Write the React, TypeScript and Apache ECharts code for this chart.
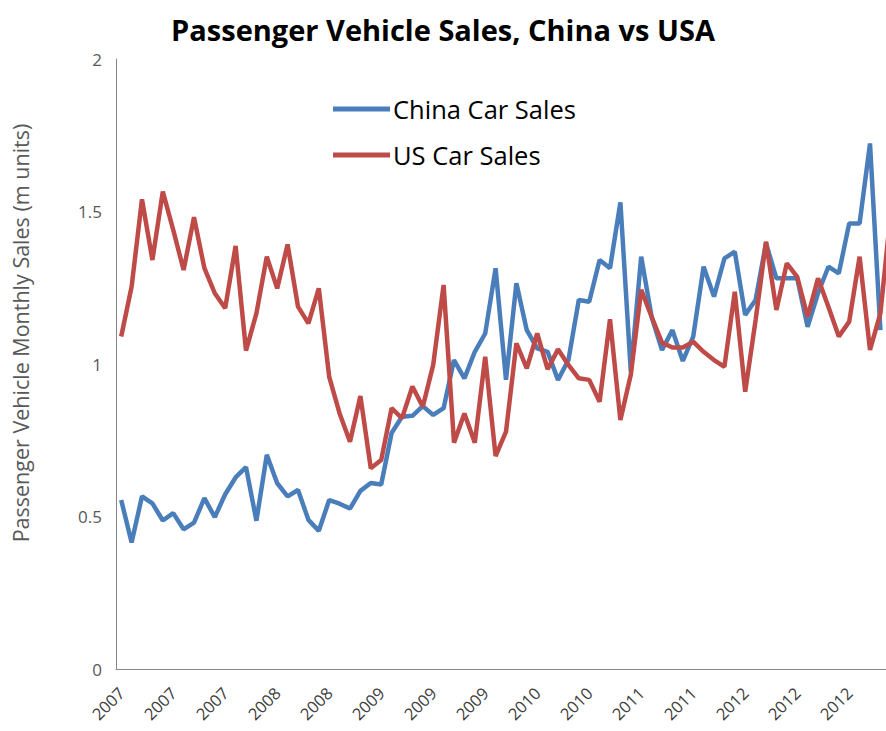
import React, { useEffect, useRef } from "react";
import * as echarts from "echarts";

// Monthly categories, Jan 2007 .. Mar 2013 (axis shows the year only)
const startYear = 2007;
const monthCount = 75;
const categories: string[] = Array.from({ length: monthCount }, (_, i) => {
  const y = startYear + Math.floor(i / 12);
  const m = (i % 12) + 1;
  return `${y}-${m < 10 ? "0" + m : m}`;
});

const yTicks = [0, 0.5, 1, 1.5, 2];

// China passenger car sales (million units per month)
const chinaSales: (number | null)[] = [
  0.554, 0.415, 0.566, 0.543, 0.487, 0.511, 0.458, 0.48, 0.56, 0.498,
  0.573, 0.628, 0.662, 0.486, 0.702, 0.609, 0.566, 0.587, 0.489, 0.453,
  0.554, 0.542, 0.526, 0.584, 0.61, 0.605, 0.774, 0.827, 0.83, 0.862,
  0.833, 0.855, 1.013, 0.953, 1.04, 1.1, 1.314, 0.948, 1.265, 1.111,
  1.051, 1.04, 0.948, 1.013, 1.21, 1.204, 1.341, 1.314, 1.53, 0.975,
  1.352, 1.155, 1.046, 1.111, 1.01, 1.09, 1.319, 1.221, 1.346, 1.368,
  1.161, 1.21, 1.396, 1.281, 1.281, 1.281, 1.122, 1.232, 1.319, 1.297,
  1.461, 1.461, 1.723, 1.111, null,
];

// US car sales (million units per month)
const usSales: number[] = [
  1.09, 1.253, 1.54, 1.341, 1.565, 1.44, 1.308, 1.481, 1.314, 1.232,
  1.183, 1.387, 1.044, 1.166, 1.352, 1.248, 1.392, 1.188, 1.133, 1.248,
  0.958, 0.838, 0.745, 0.895, 0.658, 0.685, 0.855, 0.822, 0.926, 0.86,
  0.997, 1.259, 0.742, 0.838, 0.742, 1.024, 0.698, 0.778, 1.068, 0.986,
  1.1, 0.983, 1.048, 0.997, 0.953, 0.948, 0.876, 1.147, 0.816, 0.965,
  1.243, 1.155, 1.07, 1.054, 1.054, 1.073, 1.04, 1.013, 0.991, 1.237,
  0.909, 1.144, 1.401, 1.177, 1.33, 1.286, 1.155, 1.281, 1.188, 1.09,
  1.139, 1.352, 1.046, 1.166, 1.5,
];

const FONT = "'Open Sans', 'Noto Sans', sans-serif";

export default function App() {
  const ref = useRef<HTMLDivElement>(null);

  useEffect(() => {
    if (!ref.current) return;
    const chart = echarts.init(ref.current, undefined, { renderer: "svg" });
    chart.setOption({
      animation: false,
      backgroundColor: "#ffffff",
      title: {
        text: "Passenger Vehicle Sales, China vs USA",
        left: "center",
        top: 10,
        textStyle: {
          fontFamily: FONT,
          fontSize: 29,
          fontWeight: "bold",
          color: "#000000",
        },
      },
      legend: {
        orient: "vertical",
        left: 333,
        top: 96,
        padding: 0,
        icon: "rect",
        itemWidth: 57,
        itemHeight: 5,
        itemGap: 20,
        textStyle: { fontFamily: FONT, fontSize: 25.5, color: "#000000", padding: [0, 0, 0, -2] },
        data: ["China Car Sales", "US Car Sales"],
      },
      graphic: [
        {
          type: "text",
          x: 20,
          y: 333,
          rotation: Math.PI / 2,
          style: {
            text: "Passenger Vehicle Monthly Sales (m units)",
            fontFamily: FONT,
            fontSize: 21.5,
            fill: "#595959",
            align: "center",
            verticalAlign: "middle",
          },
        },
      ],
      grid: {
        left: 116,
        top: 59,
        width: 780,
        height: 610,
        containLabel: false,
        outerBoundsMode: "none",
      },
      xAxis: {
        type: "category",
        data: categories,
        boundaryGap: true,
        axisLine: { show: true, lineStyle: { color: "#868686", width: 1 } },
        axisTick: { show: false },
        splitLine: { show: false },
        axisLabel: {
          interval: 4,
          rotate: 45,
          margin: 21,
          fontFamily: FONT,
          fontSize: 16.5,
          color: "#404040",
          formatter: (v: string) => v.slice(0, 4),
        },
      },
      yAxis: {
        type: "value",
        min: yTicks[0],
        max: yTicks[yTicks.length - 1],
        interval: 0.5,
        axisLine: { show: true, lineStyle: { color: "#868686", width: 1 } },
        axisTick: { show: false },
        splitLine: { show: false },
        axisLabel: {
          margin: 14,
          fontFamily: FONT,
          fontSize: 17,
          color: "#595959",
        },
      },
      series: [
        {
          name: "China Car Sales",
          type: "line",
          data: chinaSales,
          showSymbol: false,
          symbol: "none",
          lineStyle: { color: "#4A7EBB", width: 4.5 },
          itemStyle: { color: "#4A7EBB" },
          z: 2,
        },
        {
          name: "US Car Sales",
          type: "line",
          data: usSales,
          showSymbol: false,
          symbol: "none",
          lineStyle: { color: "#BE4B48", width: 4.5 },
          itemStyle: { color: "#BE4B48" },
          z: 3,
        },
      ],
    });
    return () => chart.dispose();
  }, []);

  return (
    <div
      ref={ref}
      style={{ position: "fixed", left: 0, top: 0, width: 886, height: 731, background: "#fff" }}
    />
  );
}
